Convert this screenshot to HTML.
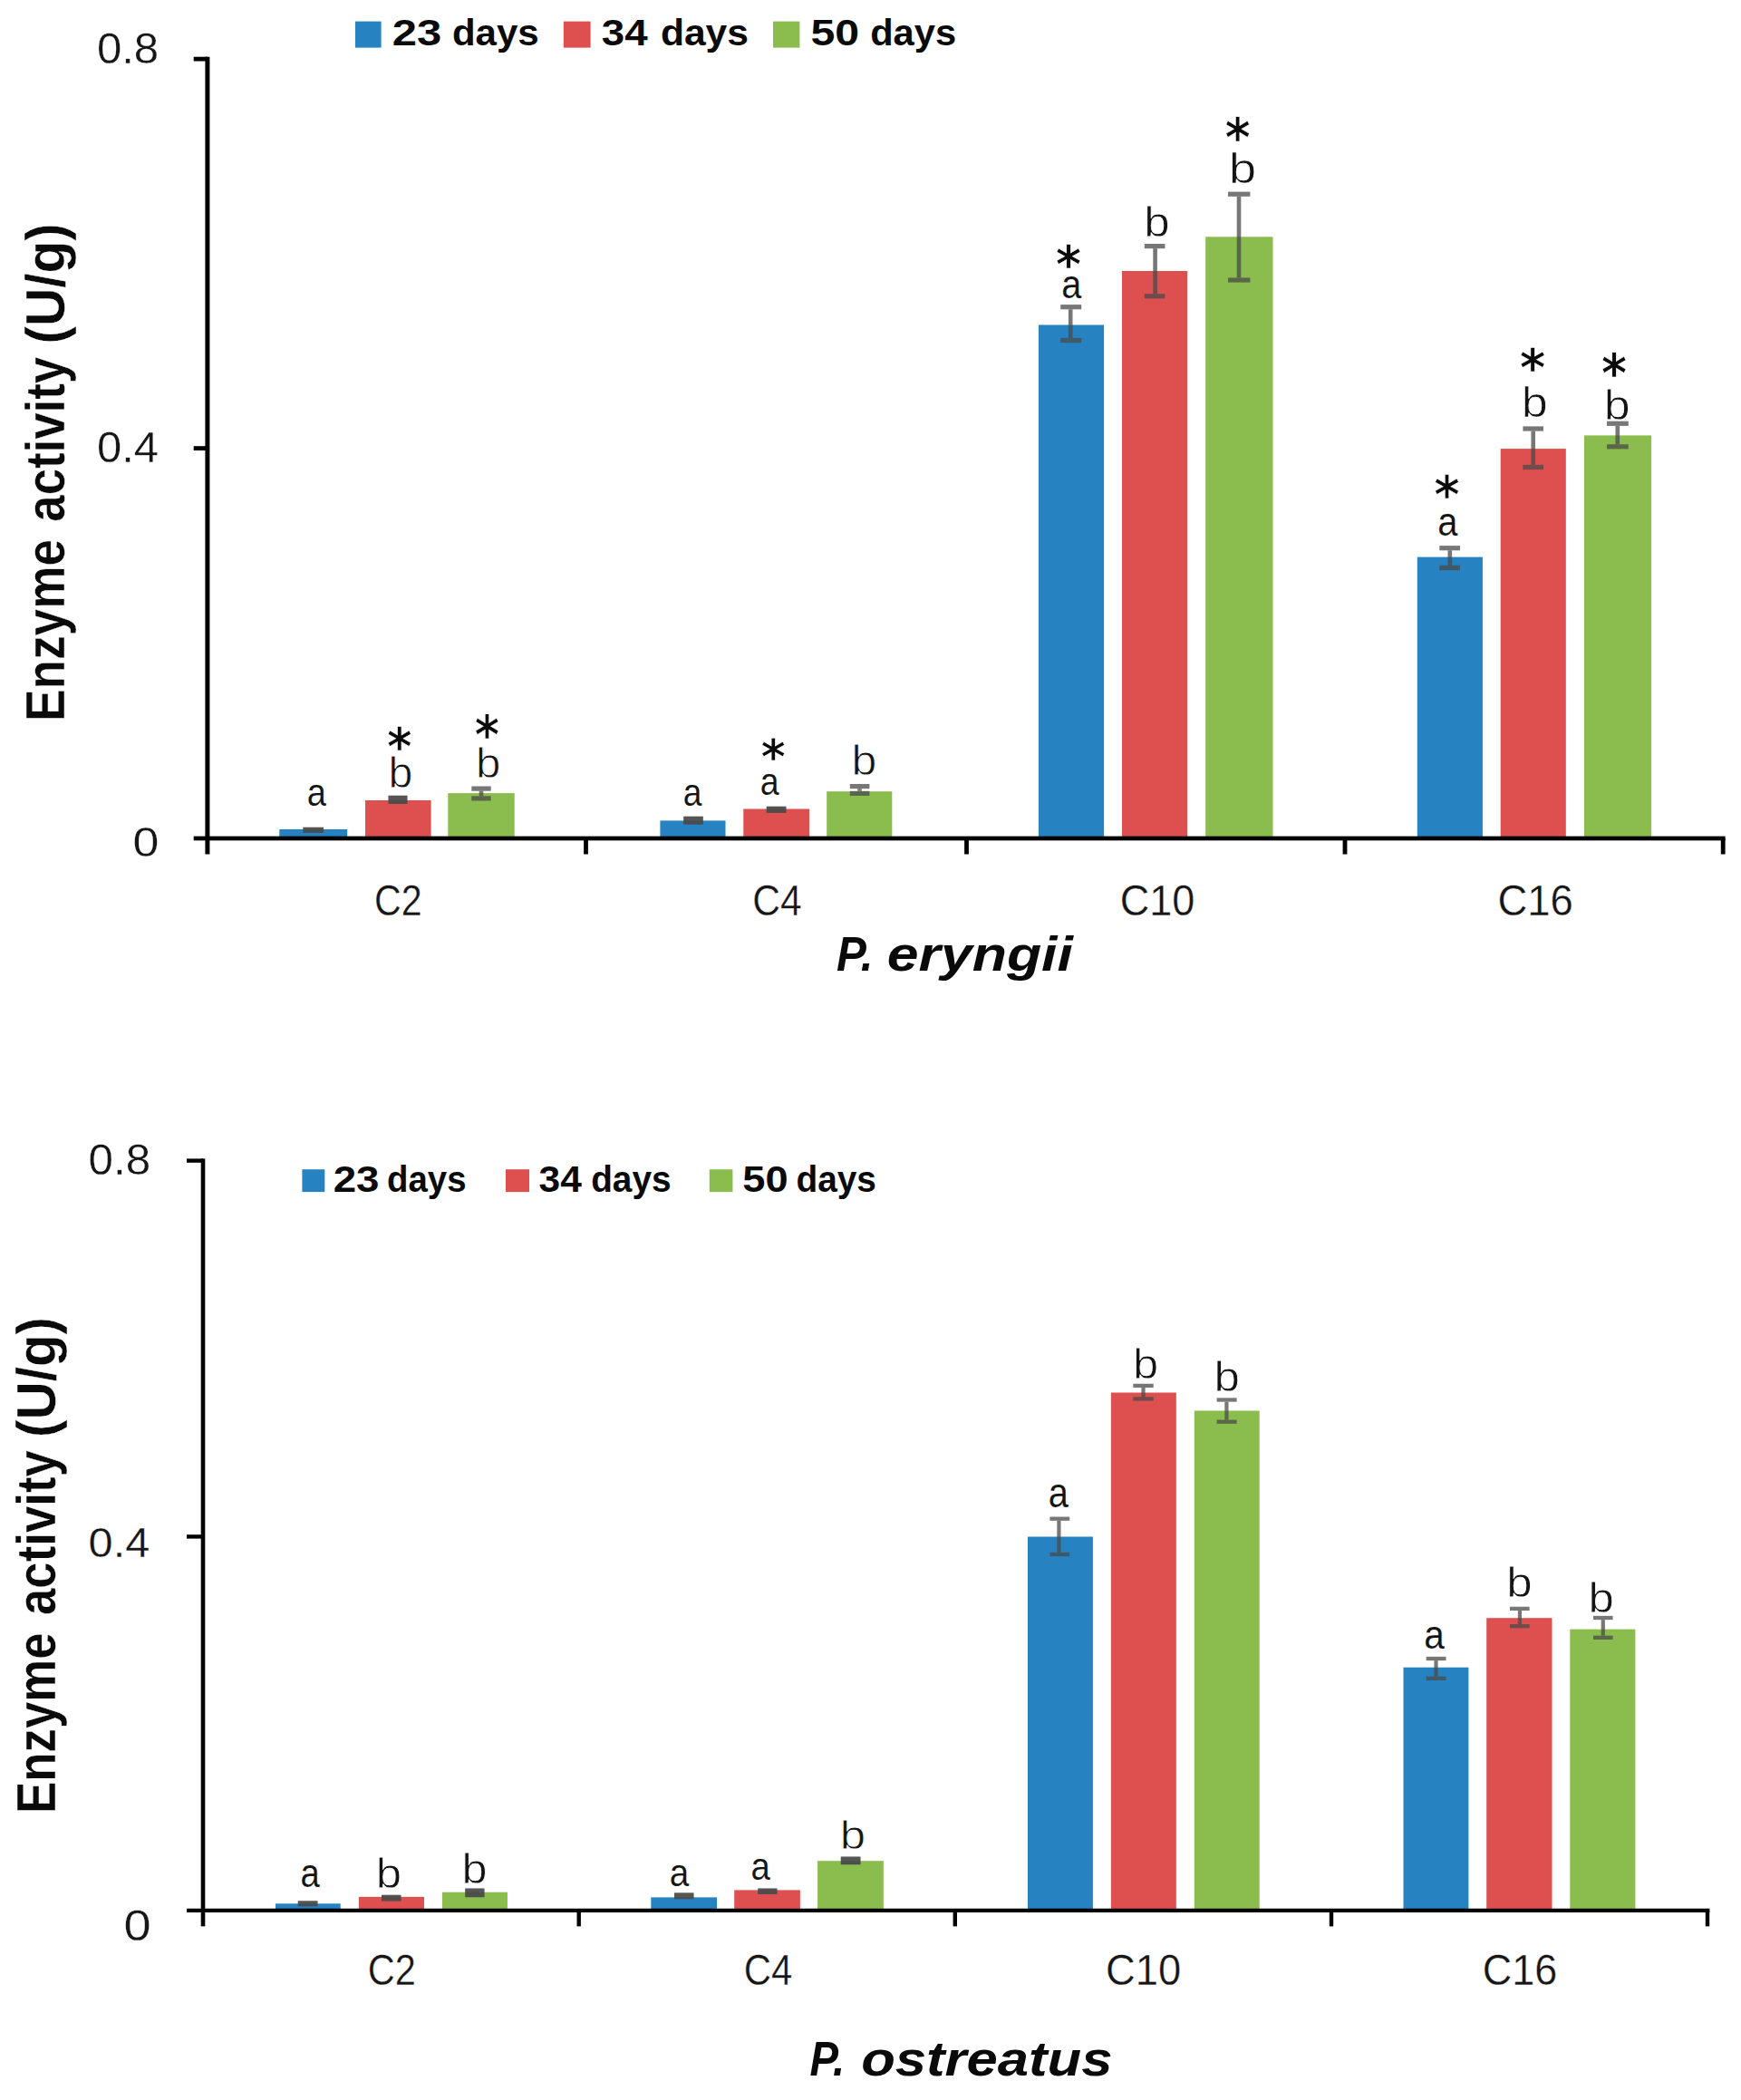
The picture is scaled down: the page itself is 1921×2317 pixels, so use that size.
<!DOCTYPE html>
<html lang="en"><head><meta charset="utf-8"><title>Enzyme activity</title>
<style>html,body{margin:0;padding:0;background:#fff}svg{display:block}</style></head><body>
<svg width="1921" height="2317" viewBox="0 0 1921 2317">
<rect width="1921" height="2317" fill="#fff"/>
<g id="chart-eryngii">
<g class="bars">
<rect x="308.3" y="915" width="74.9" height="10" fill="#2682C0"/>
<rect x="403" y="883" width="72.6" height="42" fill="#DE5050"/>
<rect x="494.3" y="875.1" width="73.4" height="49.9" fill="#8BBD4E"/>
<rect x="728.4" y="905.4" width="72.1" height="19.6" fill="#2682C0"/>
<rect x="820.3" y="892.5" width="72.7" height="32.5" fill="#DE5050"/>
<rect x="912.2" y="873.2" width="72.1" height="51.8" fill="#8BBD4E"/>
<rect x="1146" y="358.5" width="72.1" height="566.5" fill="#2682C0"/>
<rect x="1238" y="299" width="72.2" height="626" fill="#DE5050"/>
<rect x="1330.2" y="261.3" width="74.3" height="663.7" fill="#8BBD4E"/>
<rect x="1563.8" y="614.6" width="72.1" height="310.4" fill="#2682C0"/>
<rect x="1655.7" y="495.1" width="72.1" height="429.9" fill="#DE5050"/>
<rect x="1748" y="480.4" width="74.1" height="444.6" fill="#8BBD4E"/>
</g>
<g class="err" fill="#4a4a4a" fill-opacity="0.75">
<rect x="334.5" y="912.8" width="22.5" height="6"/>
<rect x="334.5" y="912.8" width="22.5" height="6"/>
<rect x="428.6" y="877.8" width="20.8" height="9.2"/>
<rect x="428.6" y="877.8" width="20.8" height="9.2"/>
<rect x="520.3" y="867.5" width="21.4" height="5.2"/>
<rect x="520.3" y="878.3" width="21.4" height="5.2"/>
<rect x="528.7" y="872.7" width="4.6" height="5.6"/>
<rect x="754.3" y="900.8" width="21.4" height="8.7"/>
<rect x="754.3" y="900.8" width="21.4" height="8.7"/>
<rect x="845.8" y="889.8" width="21.6" height="7"/>
<rect x="845.8" y="889.8" width="21.6" height="7"/>
<rect x="937.8" y="865" width="21.6" height="5.2"/>
<rect x="937.8" y="872.8" width="21.6" height="5.2"/>
<rect x="946.2" y="870.2" width="4.6" height="2.6"/>
<rect x="1170.2" y="336.1" width="23" height="5.2"/>
<rect x="1170.2" y="372.9" width="23" height="5.2"/>
<rect x="1178.9" y="341.3" width="4.6" height="31.6"/>
<rect x="1262.8" y="269" width="22.6" height="5.2"/>
<rect x="1262.8" y="324.2" width="22.6" height="5.2"/>
<rect x="1272.3" y="274.2" width="4.6" height="50"/>
<rect x="1355" y="211.6" width="24.4" height="5.2"/>
<rect x="1355" y="306.4" width="24.4" height="5.2"/>
<rect x="1364.7" y="216.8" width="4.6" height="89.6"/>
<rect x="1588.3" y="602.1" width="22.7" height="5.2"/>
<rect x="1588.3" y="623.9" width="22.7" height="5.2"/>
<rect x="1597.5" y="607.3" width="4.6" height="16.6"/>
<rect x="1680.4" y="470.4" width="22.6" height="5.2"/>
<rect x="1680.4" y="512.9" width="22.6" height="5.2"/>
<rect x="1689.4" y="475.6" width="4.6" height="37.3"/>
<rect x="1773" y="464.7" width="23.8" height="5.2"/>
<rect x="1773" y="490.2" width="23.8" height="5.2"/>
<rect x="1782.5" y="469.9" width="4.6" height="20.3"/>
</g>
<g class="axes" fill="#000">
<rect x="226.4" y="62.7" width="5" height="879.8" fill="#000"/>
<rect x="213.7" y="922.65" width="1689.9" height="4.7" fill="#000"/>
<rect x="213.7" y="62.7" width="15.2" height="4.8" fill="#000"/>
<rect x="213.7" y="492.2" width="15.2" height="4.8" fill="#000"/>
<rect x="644.1" y="925" width="4.8" height="17.5" fill="#000"/>
<rect x="1064.1" y="925" width="4.8" height="17.5" fill="#000"/>
<rect x="1481.6" y="925" width="4.8" height="17.5" fill="#000"/>
<rect x="1898.8" y="925" width="4.8" height="17.5" fill="#000"/>
</g>
<g class="labels">
<text transform="matrix(0.3808 0 0 0.4236 338.83 889.23)" font-family="'Liberation Sans', sans-serif" font-size="100" stroke="#fff" stroke-width="0.25" fill="#141414">a</text>
<text transform="matrix(0.4841 0 0 0.4726 428.41 868.9)" font-family="'Liberation Sans', sans-serif" font-size="100" stroke="#fff" stroke-width="1.67" fill="#141414">b</text>
<text transform="matrix(0.5188 0 0 0.5761 427.31 843.98)" font-family="'DejaVu Sans', sans-serif" font-size="100" font-weight="bold" stroke="#fff" stroke-width="0.91" fill="#0a0a0a">*</text>
<text transform="matrix(0.4932 0 0 0.4671 525.05 858)" font-family="'Liberation Sans', sans-serif" font-size="100" stroke="#fff" stroke-width="1.67" fill="#141414">b</text>
<text transform="matrix(0.5208 0 0 0.5935 523.71 831.27)" font-family="'DejaVu Sans', sans-serif" font-size="100" font-weight="bold" stroke="#fff" stroke-width="0.90" fill="#0a0a0a">*</text>
<text transform="matrix(0.3712 0 0 0.4255 753.87 888.82)" font-family="'Liberation Sans', sans-serif" font-size="100" stroke="#fff" stroke-width="0.25" fill="#141414">a</text>
<text transform="matrix(0.3750 0 0 0.4327 838.65 876.72)" font-family="'Liberation Sans', sans-serif" font-size="100" stroke="#fff" stroke-width="0.25" fill="#141414">a</text>
<text transform="matrix(0.5146 0 0 0.5370 839.82 853.68)" font-family="'DejaVu Sans', sans-serif" font-size="100" font-weight="bold" stroke="#fff" stroke-width="0.95" fill="#0a0a0a">*</text>
<text transform="matrix(0.5000 0 0 0.4534 939.5 854.6)" font-family="'Liberation Sans', sans-serif" font-size="100" stroke="#fff" stroke-width="1.68" fill="#141414">b</text>
<text transform="matrix(0.5354 0 0 0.5761 1165.08 312.38)" font-family="'DejaVu Sans', sans-serif" font-size="100" font-weight="bold" stroke="#fff" stroke-width="0.90" fill="#0a0a0a">*</text>
<text transform="matrix(0.3962 0 0 0.4382 1171.17 328.51)" font-family="'Liberation Sans', sans-serif" font-size="100" stroke="#fff" stroke-width="0.24" fill="#141414">a</text>
<text transform="matrix(0.5114 0 0 0.4562 1262.32 260.8)" font-family="'Liberation Sans', sans-serif" font-size="100" stroke="#fff" stroke-width="1.65" fill="#141414">b</text>
<text transform="matrix(0.5477 0 0 0.4534 1355.77 201.6)" font-family="'Liberation Sans', sans-serif" font-size="100" stroke="#fff" stroke-width="1.60" fill="#141414">b</text>
<text transform="matrix(0.5312 0 0 0.5913 1351.79 171.51)" font-family="'DejaVu Sans', sans-serif" font-size="100" font-weight="bold" stroke="#fff" stroke-width="0.89" fill="#0a0a0a">*</text>
<text transform="matrix(0.5354 0 0 0.5717 1582.58 566.06)" font-family="'DejaVu Sans', sans-serif" font-size="100" font-weight="bold" stroke="#fff" stroke-width="0.90" fill="#0a0a0a">*</text>
<text transform="matrix(0.3981 0 0 0.4473 1586.36 590.8)" font-family="'Liberation Sans', sans-serif" font-size="100" stroke="#fff" stroke-width="0.24" fill="#141414">a</text>
<text transform="matrix(0.5396 0 0 0.5761 1676.97 426.48)" font-family="'DejaVu Sans', sans-serif" font-size="100" font-weight="bold" stroke="#fff" stroke-width="0.90" fill="#0a0a0a">*</text>
<text transform="matrix(0.5227 0 0 0.4630 1678.84 460.4)" font-family="'Liberation Sans', sans-serif" font-size="100" stroke="#fff" stroke-width="1.62" fill="#141414">b</text>
<text transform="matrix(0.5354 0 0 0.5826 1767.08 431.96)" font-family="'DejaVu Sans', sans-serif" font-size="100" font-weight="bold" stroke="#fff" stroke-width="0.89" fill="#0a0a0a">*</text>
<text transform="matrix(0.5205 0 0 0.4616 1769.66 462.7)" font-family="'Liberation Sans', sans-serif" font-size="100" stroke="#fff" stroke-width="1.63" fill="#141414">b</text>
<text transform="matrix(0.4119 0 0 0.4718 413.09 1009.88)" font-family="'Liberation Sans', sans-serif" font-size="100" stroke="#fff" stroke-width="0.68" fill="#161616">C2</text>
<text transform="matrix(0.4258 0 0 0.4718 830.22 1009.88)" font-family="'Liberation Sans', sans-serif" font-size="100" stroke="#fff" stroke-width="0.67" fill="#161616">C4</text>
<text transform="matrix(0.4500 0 0 0.4718 1235.7 1009.88)" font-family="'Liberation Sans', sans-serif" font-size="100" stroke="#fff" stroke-width="0.65" fill="#161616">C10</text>
<text transform="matrix(0.4546 0 0 0.4718 1652.38 1009.88)" font-family="'Liberation Sans', sans-serif" font-size="100" stroke="#fff" stroke-width="0.65" fill="#161616">C16</text>
<text transform="matrix(0.4916 0 0 0.4718 106.88 70.38)" font-family="'Liberation Sans', sans-serif" font-size="100" stroke="#fff" stroke-width="0.62" fill="#161616">0.8</text>
<text transform="matrix(0.4902 0 0 0.4718 106.89 510.48)" font-family="'Liberation Sans', sans-serif" font-size="100" stroke="#fff" stroke-width="0.62" fill="#161616">0.4</text>
<text transform="matrix(0.5188 0 0 0.4634 146.47 944.59)" font-family="'Liberation Sans', sans-serif" font-size="100" stroke="#fff" stroke-width="0.61" fill="#161616">0</text>
</g>
<g class="legend">
<rect x="392" y="23.6" width="28.6" height="29" fill="#2682C0"/>
<rect x="621.8" y="23.6" width="29.8" height="29" fill="#DE5050"/>
<rect x="853" y="23.6" width="29.4" height="29" fill="#8BBD4E"/>
<text transform="matrix(0.4554 0 0 0.4129 434.3 50.2)" font-family="'Liberation Sans', sans-serif" font-size="100" font-weight="bold" fill="#0a0a0a"><tspan x="-3.23" textLength="119.77" lengthAdjust="spacingAndGlyphs">23</tspan> <tspan x="141.89" textLength="210.44" lengthAdjust="spacingAndGlyphs">days</tspan></text>
<text transform="matrix(0.4414 0 0 0.4129 664.7 50.2)" font-family="'Liberation Sans', sans-serif" font-size="100" font-weight="bold" fill="#0a0a0a"><tspan x="-2.07" textLength="115.14" lengthAdjust="spacingAndGlyphs">34</tspan> <tspan x="145.44" textLength="219.94" lengthAdjust="spacingAndGlyphs">days</tspan></text>
<text transform="matrix(0.4498 0 0 0.4129 895.9 50.2)" font-family="'Liberation Sans', sans-serif" font-size="100" font-weight="bold" fill="#0a0a0a"><tspan x="-3.22" textLength="119.38" lengthAdjust="spacingAndGlyphs">50</tspan> <tspan x="142.82" textLength="211.24" lengthAdjust="spacingAndGlyphs">days</tspan></text>
</g>
<text class="ytitle" transform="matrix(0 -0.5481 0.6058 0 70.8 792.2)" font-family="'Liberation Sans', sans-serif" font-size="100" font-weight="bold" stroke="#fff" stroke-width="0.69" fill="#0a0a0a"><tspan x="-6.79" textLength="366.56" lengthAdjust="spacingAndGlyphs">Enzyme</tspan> <tspan x="395.02" textLength="331.91" lengthAdjust="spacingAndGlyphs">activity</tspan> <tspan x="752.91" textLength="242.95" lengthAdjust="spacingAndGlyphs">(U/g)</tspan></text>
<text class="xtitle" transform="matrix(0.5592 0 0 0.5420 924.1 1070.6)" font-family="'Liberation Sans', sans-serif" font-size="100" font-weight="bold" font-style="italic" fill="#0a0a0a"><tspan x="-1.76" textLength="71.93" lengthAdjust="spacingAndGlyphs">P.</tspan> <tspan x="97.86" textLength="366.74" lengthAdjust="spacingAndGlyphs">eryngii</tspan></text>
</g>
<g id="chart-ostreatus">
<g class="bars">
<rect x="304" y="2100.3" width="71.7" height="7.6" fill="#2682C0"/>
<rect x="395.9" y="2092.9" width="72.1" height="15" fill="#DE5050"/>
<rect x="488" y="2087.7" width="71.9" height="20.2" fill="#8BBD4E"/>
<rect x="718.3" y="2093.4" width="72.7" height="14.5" fill="#2682C0"/>
<rect x="810.2" y="2085.4" width="72.7" height="22.5" fill="#DE5050"/>
<rect x="902.1" y="2053.2" width="72.7" height="54.7" fill="#8BBD4E"/>
<rect x="1134" y="1695.5" width="71.9" height="412.4" fill="#2682C0"/>
<rect x="1225.9" y="1536.5" width="71.9" height="571.4" fill="#DE5050"/>
<rect x="1317.8" y="1556.5" width="71.9" height="551.4" fill="#8BBD4E"/>
<rect x="1548.5" y="1839.7" width="71.9" height="268.2" fill="#2682C0"/>
<rect x="1640.2" y="1785.2" width="72.3" height="322.7" fill="#DE5050"/>
<rect x="1732.3" y="1797.6" width="72.1" height="310.3" fill="#8BBD4E"/>
</g>
<g class="err" fill="#4a4a4a" fill-opacity="0.75">
<rect x="328.8" y="2097.4" width="21.6" height="5.8"/>
<rect x="328.8" y="2097.4" width="21.6" height="5.8"/>
<rect x="421" y="2090.8" width="21.4" height="6.6"/>
<rect x="421" y="2090.8" width="21.4" height="6.6"/>
<rect x="513.3" y="2083.6" width="21.1" height="9.6"/>
<rect x="513.3" y="2083.6" width="21.1" height="9.6"/>
<rect x="744" y="2088.5" width="21.4" height="6.7"/>
<rect x="744" y="2088.5" width="21.4" height="6.7"/>
<rect x="836.3" y="2083.6" width="21.1" height="6.2"/>
<rect x="836.3" y="2083.6" width="21.1" height="6.2"/>
<rect x="927.8" y="2048.6" width="21.6" height="8.6"/>
<rect x="927.8" y="2048.6" width="21.6" height="8.6"/>
<rect x="1158.4" y="1673.55" width="21.8" height="4.3"/>
<rect x="1158.4" y="1712.85" width="21.8" height="4.3"/>
<rect x="1166.3" y="1677.85" width="4.2" height="35"/>
<rect x="1250.3" y="1526.75" width="22.4" height="4.3"/>
<rect x="1250.3" y="1541.25" width="22.4" height="4.3"/>
<rect x="1259.4" y="1531.05" width="4.2" height="10.2"/>
<rect x="1342.6" y="1542.35" width="22" height="4.3"/>
<rect x="1342.6" y="1566.55" width="22" height="4.3"/>
<rect x="1351.3" y="1546.65" width="4.2" height="19.9"/>
<rect x="1573.7" y="1827.85" width="21.8" height="4.3"/>
<rect x="1573.7" y="1849.75" width="21.8" height="4.3"/>
<rect x="1582.4" y="1832.15" width="4.2" height="17.6"/>
<rect x="1666" y="1772.75" width="21.6" height="4.3"/>
<rect x="1666" y="1792.05" width="21.6" height="4.3"/>
<rect x="1674.8" y="1777.05" width="4.2" height="15"/>
<rect x="1758" y="1782.85" width="21.6" height="4.3"/>
<rect x="1758" y="1804.65" width="21.6" height="4.3"/>
<rect x="1766.7" y="1787.15" width="4.2" height="17.5"/>
</g>
<g class="axes" fill="#000">
<rect x="221.7" y="1278.4" width="4.6" height="847" fill="#000"/>
<rect x="206" y="2105.75" width="1680.4" height="4.3" fill="#000"/>
<rect x="206" y="1278.4" width="18" height="4.4" fill="#000"/>
<rect x="206" y="1693.2" width="18" height="4.4" fill="#000"/>
<rect x="636.5" y="2107.9" width="4.4" height="17.5" fill="#000"/>
<rect x="1051.6" y="2107.9" width="4.4" height="17.5" fill="#000"/>
<rect x="1466.8" y="2107.9" width="4.4" height="17.5" fill="#000"/>
<rect x="1881.8" y="2107.9" width="4.4" height="17.5" fill="#000"/>
</g>
<g class="labels">
<text transform="matrix(0.3827 0 0 0.4418 331.42 2082.21)" font-family="'Liberation Sans', sans-serif" font-size="100" stroke="#fff" stroke-width="0.24" fill="#141414">a</text>
<text transform="matrix(0.5091 0 0 0.4712 414.74 2082.8)" font-family="'Liberation Sans', sans-serif" font-size="100" stroke="#fff" stroke-width="1.63" fill="#141414">b</text>
<text transform="matrix(0.5045 0 0 0.4630 509.47 2077.6)" font-family="'Liberation Sans', sans-serif" font-size="100" stroke="#fff" stroke-width="1.65" fill="#141414">b</text>
<text transform="matrix(0.3865 0 0 0.4327 738.8 2081.22)" font-family="'Liberation Sans', sans-serif" font-size="100" stroke="#fff" stroke-width="0.24" fill="#141414">a</text>
<text transform="matrix(0.3827 0 0 0.4309 828.62 2074.02)" font-family="'Liberation Sans', sans-serif" font-size="100" stroke="#fff" stroke-width="0.25" fill="#141414">a</text>
<text transform="matrix(0.5091 0 0 0.4521 926.74 2040.3)" font-family="'Liberation Sans', sans-serif" font-size="100" stroke="#fff" stroke-width="1.66" fill="#141414">b</text>
<text transform="matrix(0.3981 0 0 0.4545 1156.86 1662.5)" font-family="'Liberation Sans', sans-serif" font-size="100" stroke="#fff" stroke-width="0.23" fill="#141414">a</text>
<text transform="matrix(0.5068 0 0 0.4630 1249.95 1520.9)" font-family="'Liberation Sans', sans-serif" font-size="100" stroke="#fff" stroke-width="1.65" fill="#141414">b</text>
<text transform="matrix(0.5114 0 0 0.4562 1339.52 1535.3)" font-family="'Liberation Sans', sans-serif" font-size="100" stroke="#fff" stroke-width="1.65" fill="#141414">b</text>
<text transform="matrix(0.4058 0 0 0.4509 1571.13 1818.9)" font-family="'Liberation Sans', sans-serif" font-size="100" stroke="#fff" stroke-width="0.23" fill="#141414">a</text>
<text transform="matrix(0.5114 0 0 0.4630 1662.32 1762)" font-family="'Liberation Sans', sans-serif" font-size="100" stroke="#fff" stroke-width="1.64" fill="#141414">b</text>
<text transform="matrix(0.5114 0 0 0.4575 1752.62 1779.3)" font-family="'Liberation Sans', sans-serif" font-size="100" stroke="#fff" stroke-width="1.65" fill="#141414">b</text>
<text transform="matrix(0.4153 0 0 0.4746 405.67 2190.18)" font-family="'Liberation Sans', sans-serif" font-size="100" stroke="#fff" stroke-width="0.67" fill="#161616">C2</text>
<text transform="matrix(0.4183 0 0 0.4746 820.86 2190.18)" font-family="'Liberation Sans', sans-serif" font-size="100" stroke="#fff" stroke-width="0.67" fill="#161616">C4</text>
<text transform="matrix(0.4534 0 0 0.4746 1220.08 2190.18)" font-family="'Liberation Sans', sans-serif" font-size="100" stroke="#fff" stroke-width="0.65" fill="#161616">C10</text>
<text transform="matrix(0.4500 0 0 0.4746 1635.7 2190.18)" font-family="'Liberation Sans', sans-serif" font-size="100" stroke="#fff" stroke-width="0.65" fill="#161616">C16</text>
<text transform="matrix(0.4931 0 0 0.4732 97.58 1295.88)" font-family="'Liberation Sans', sans-serif" font-size="100" stroke="#fff" stroke-width="0.62" fill="#161616">0.8</text>
<text transform="matrix(0.4864 0 0 0.4606 97.6 1717.99)" font-family="'Liberation Sans', sans-serif" font-size="100" stroke="#fff" stroke-width="0.63" fill="#161616">0.4</text>
<text transform="matrix(0.5417 0 0 0.4746 136.48 2140.68)" font-family="'Liberation Sans', sans-serif" font-size="100" stroke="#fff" stroke-width="0.59" fill="#161616">0</text>
</g>
<g class="legend">
<rect x="333.4" y="1290.2" width="24.9" height="24.9" fill="#2682C0"/>
<rect x="558" y="1290.2" width="26" height="24.9" fill="#DE5050"/>
<rect x="782.8" y="1290.2" width="25.6" height="24.9" fill="#8BBD4E"/>
<text transform="matrix(0.4202 0 0 0.4157 369 1315.2)" font-family="'Liberation Sans', sans-serif" font-size="100" font-weight="bold" fill="#0a0a0a"><tspan x="-3.26" textLength="120.91" lengthAdjust="spacingAndGlyphs">23</tspan> <tspan x="138.19" textLength="208.11" lengthAdjust="spacingAndGlyphs">days</tspan></text>
<text transform="matrix(0.4062 0 0 0.4157 595.4 1315.2)" font-family="'Liberation Sans', sans-serif" font-size="100" font-weight="bold" fill="#0a0a0a"><tspan x="-2.09" textLength="116.31" lengthAdjust="spacingAndGlyphs">34</tspan> <tspan x="139.69" textLength="217.55" lengthAdjust="spacingAndGlyphs">days</tspan></text>
<text transform="matrix(0.4198 0 0 0.4157 820.6 1315.2)" font-family="'Liberation Sans', sans-serif" font-size="100" font-weight="bold" fill="#0a0a0a"><tspan x="-3.23" textLength="119.74" lengthAdjust="spacingAndGlyphs">50</tspan> <tspan x="138.03" textLength="210.51" lengthAdjust="spacingAndGlyphs">days</tspan></text>
</g>
<text class="ytitle" transform="matrix(0 -0.5464 0.6145 0 61.4 1997.2)" font-family="'Liberation Sans', sans-serif" font-size="100" font-weight="bold" stroke="#fff" stroke-width="0.69" fill="#0a0a0a"><tspan x="-6.76" textLength="365.04" lengthAdjust="spacingAndGlyphs">Enzyme</tspan> <tspan x="393.86" textLength="332.74" lengthAdjust="spacingAndGlyphs">activity</tspan> <tspan x="752.66" textLength="243.32" lengthAdjust="spacingAndGlyphs">(U/g)</tspan></text>
<text class="xtitle" transform="matrix(0.5447 0 0 0.5406 894.5 2290.2)" font-family="'Liberation Sans', sans-serif" font-size="100" font-weight="bold" font-style="italic" fill="#0a0a0a"><tspan x="-1.74" textLength="70.89" lengthAdjust="spacingAndGlyphs">P.</tspan> <tspan x="102.16" textLength="509.23" lengthAdjust="spacingAndGlyphs">ostreatus</tspan></text>
</g>
</svg></body></html>
